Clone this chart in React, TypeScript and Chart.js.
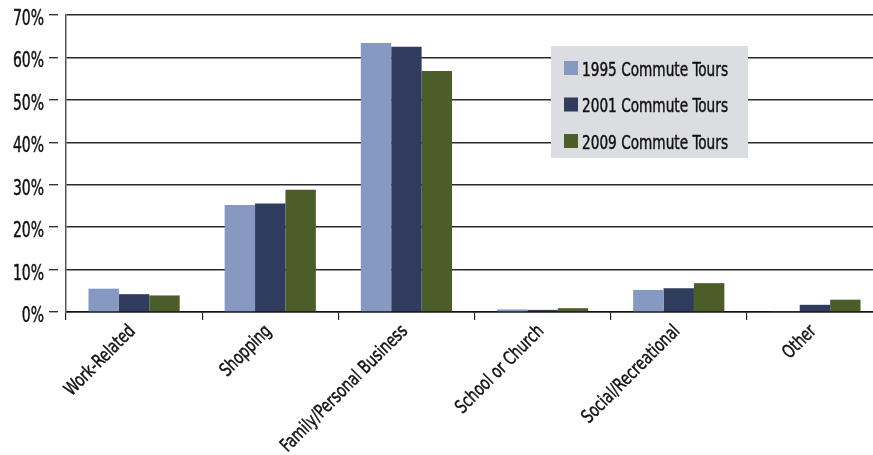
import React, { useEffect, useRef } from "react";
import { Chart, registerables } from "chart.js";

Chart.register(...registerables);

const categories = [
  "Work-Related",
  "Shopping",
  "Family/Personal Business",
  "School or Church",
  "Social/Recreational",
  "Other",
];

const seriesLabels = ["1995 Commute Tours", "2001 Commute Tours", "2009 Commute Tours"];
const tours1995 = [5.5, 25.2, 63.4, 0.6, 5.2, 0.2];
const tours2001 = [4.2, 25.6, 62.5, 0.5, 5.6, 1.7];
const tours2009 = [3.9, 28.8, 56.8, 0.9, 6.8, 2.9];
const seriesColors = ["#8599C2", "#2F3C5D", "#4B5E2A"];

const yTicks = [0, 10, 20, 30, 40, 50, 60, 70];
const yTickLabels = yTicks.map((v) => `${v}%`);

const FONT = "'DejaVu Sans Condensed', 'DejaVu Sans', sans-serif";

// Draws text squeezed horizontally to get a narrow, condensed face
function narrowText(
  ctx: CanvasRenderingContext2D,
  text: string,
  x: number,
  y: number,
  size: number,
  squeeze: number,
  align: CanvasTextAlign,
  angle = 0
) {
  ctx.save();
  ctx.translate(x, y);
  if (angle) ctx.rotate(angle);
  ctx.scale(squeeze, 1);
  ctx.font = `${size}px ${FONT}`;
  ctx.textAlign = align;
  ctx.textBaseline = "alphabetic";
  ctx.fillText(text, 0, 0);
  ctx.strokeStyle = ctx.fillStyle;
  ctx.lineWidth = 0.45;
  ctx.strokeText(text, 0, 0);
  ctx.restore();
}

// Axis labels and the grey legend panel
const labelsAndLegend = {
  id: "labelsAndLegend",
  afterDraw(chart: any) {
    const ctx: CanvasRenderingContext2D = chart.ctx;
    const xs = chart.scales.x;
    const ys = chart.scales.y;
    ctx.save();
    ctx.fillStyle = "#111";

    yTicks.forEach((v, i) => {
      const py = ys.getPixelForValue(v);
      narrowText(ctx, yTickLabels[i], 44, py + 10, 21, 0.74, "right");
    });

    categories.forEach((c, i) => {
      const px = xs.getPixelForValue(i);
      narrowText(ctx, c, px + 2, xs.top + 20, 18.5, 0.82, "right", -Math.PI / 4);
    });

    const bx = 551;
    const by = 46;
    ctx.fillStyle = "#DCDDE0";
    ctx.fillRect(bx, by, 197, 112);
    chart.data.datasets.forEach((ds: any, i: number) => {
      const top = 61 + i * 36.5;
      ctx.fillStyle = ds.backgroundColor;
      ctx.fillRect(bx + 13, top, 14, 14);
      ctx.fillStyle = "#111";
      narrowText(ctx, ds.label, bx + 31, top + 14.5, 20, 0.76, "left");
    });
    ctx.restore();
  },
};

export default function App() {
  const canvasRef = useRef<HTMLCanvasElement | null>(null);

  useEffect(() => {
    if (!canvasRef.current) return;
    const values = [tours1995, tours2001, tours2009];
    const chart = new Chart(canvasRef.current, {
      type: "bar",
      data: {
        labels: categories,
        datasets: seriesLabels.map((label, i) => ({
          label,
          data: values[i],
          backgroundColor: seriesColors[i],
          borderWidth: 0,
          barPercentage: 1,
          categoryPercentage: 0.67,
        })),
      },
      options: {
        responsive: false,
        animation: false,
        layout: { padding: { top: 15, right: 0, left: 0, bottom: 0 } },
        plugins: {
          legend: { display: false },
          tooltip: { enabled: false },
        },
        scales: {
          x: {
            grid: {
              offset: true,
              drawOnChartArea: false,
              drawTicks: true,
              tickLength: 8,
              color: "#222",
              lineWidth: 1.2,
            },
            border: { display: true, color: "#111", width: 1.5 },
            ticks: { display: false, autoSkip: false },
            afterFit(scale: any) {
              scale.height = 143;
            },
          },
          y: {
            min: 0,
            max: 70,
            afterBuildTicks(scale: any) {
              scale.ticks = yTicks.map((v) => ({ value: v }));
            },
            grid: {
              color: "#2a2a2a",
              lineWidth: 1.4,
              tickLength: 17,
              tickBorderDash: [9, 8],
              tickColor: "#333",
            },
            border: { display: true, color: "#555", width: 1.5 },
            ticks: { display: false },
            afterFit(scale: any) {
              scale.width = 66;
            },
          },
        },
      },
      plugins: [labelsAndLegend],
    });
    return () => chart.destroy();
  }, []);

  return (
    <div
      style={{
        position: "fixed",
        left: 0,
        top: 0,
        width: 873,
        height: 455,
        overflow: "hidden",
        background: "#fff",
      }}
    >
      <canvas ref={canvasRef} width={883} height={455} style={{ display: "block" }} />
    </div>
  );
}
